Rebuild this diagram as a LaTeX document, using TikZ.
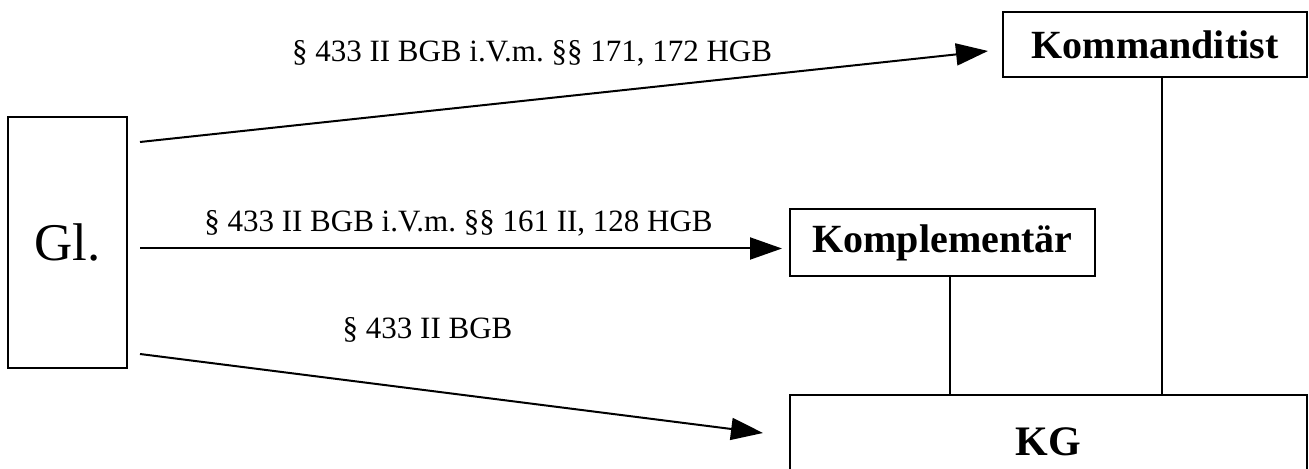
\documentclass[tikz,border=0pt]{standalone}
\usepackage{fontspec}
\setmainfont{Liberation Serif}
\usetikzlibrary{arrows.meta}
\frenchspacing
\begin{document}
\begin{tikzpicture}[x=0.5pt,y=-0.5pt,
  box/.style={draw,line width=1pt,inner sep=0pt,outer sep=0pt},
  lab/.style={inner sep=0pt,anchor=base,font=\fontsize{15.5}{18}\selectfont},
  arr/.style={line width=1pt,-{Triangle[length=16pt,width=11pt]}},
  conn/.style={line width=1pt}]
\useasboundingbox (0,0) rectangle (1309,469);
\node[box,minimum width=119*0.5pt,minimum height=251*0.5pt,font=\fontsize{26.5}{30}\selectfont] (gl) at (67.5,242.5) {Gl.};
\node[box,minimum width=304*0.5pt,minimum height=65*0.5pt,font=\fontsize{20}{24}\selectfont\bfseries] (komm) at (1155,44.5) {Kommanditist};
\node[box,minimum width=305*0.5pt,minimum height=67*0.5pt,font=\fontsize{20}{24}\selectfont\bfseries] (kompl) at (942.5,242.5) {Komplementär};
\node[box,minimum width=517*0.5pt,minimum height=93*0.5pt,font=\fontsize{21}{25}\selectfont\bfseries] (kg) at (1048.5,441.5) {KG};
\coordinate (s1) at (140,142);
\coordinate (e1) at (988,51);
\coordinate (s2) at (140,248.5);
\coordinate (e2) at (782,248.5);
\coordinate (s3) at (140,354);
\coordinate (e3) at (763,433);
\coordinate (v1) at (1162,0);
\coordinate (v2) at (950,0);
\draw[arr] (s1) -- (e1);
\draw[arr] (s2) -- (e2);
\draw[arr] (s3) -- (e3);
\draw[conn] (komm.south -| v1) -- (kg.north -| v1);
\draw[conn] (kompl.south -| v2) -- (kg.north -| v2);
\node[lab] (l1) at (532,62) {§ 433 II BGB i.V.m. §§ 171, 172 HGB};
\node[lab] (l2) at (458.5,232) {§ 433 II BGB i.V.m. §§ 161 II, 128 HGB};
\node[lab] (l3) at (427.5,339) {§ 433 II BGB};
\end{tikzpicture}
\end{document}
